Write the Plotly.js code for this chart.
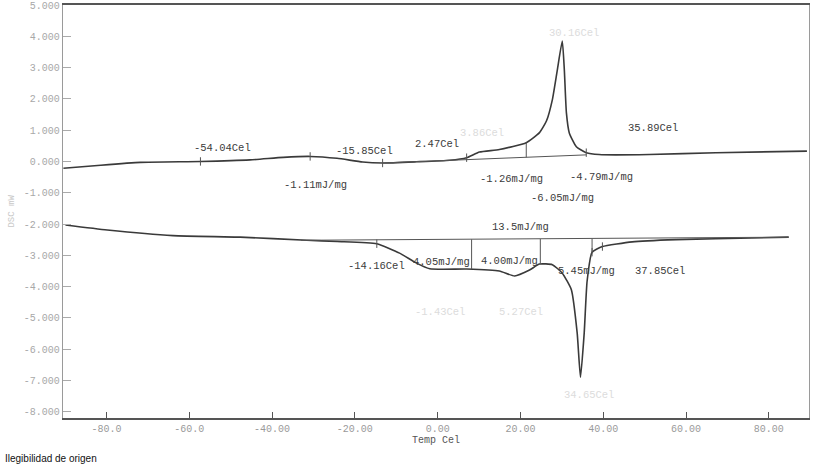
<!DOCTYPE html>
<html>
<head>
<meta charset="utf-8">
<script src="https://cdn.plot.ly/plotly-3.0.1.min.js"></script>
<style>
  html, body { margin: 0; padding: 0; background: #fff; }
  #chart { width: 815px; height: 468px; }
</style>
</head>
<body>
<div id="chart"></div>
<script>
// heating run (upper trace), temperature in Cel, signal in mW
var upperTemp = [-90.4, -81.4, -71.8, -57.3, -45.3, -37.3, -30.8, -24.3, -18.1, -13.3, -5.1, 2.9, 7.0, 10.1, 14.9, 21.4, 24.6, 26.3, 27.7, 28.9, 30.1, 30.6, 31.1, 31.8, 33.5, 35.9, 39.0, 51.1, 67.2, 89.2];
var upperDsc = [-0.22, -0.12, -0.03, 0.0, 0.05, 0.13, 0.16, 0.10, -0.02, -0.05, -0.01, 0.04, 0.12, 0.30, 0.38, 0.60, 0.92, 1.30, 1.97, 2.92, 3.85, 2.92, 1.55, 0.91, 0.47, 0.28, 0.22, 0.22, 0.28, 0.33];

// cooling run (lower trace)
var lowerTemp = [-89.9, -79.8, -63.9, -47.7, -31.6, -24.3, -14.7, -9.2, -5.1, -1.9, 7.0, 14.9, 18.6, 22.2, 24.6, 27.7, 30.1, 32.3, 33.7, 34.5, 35.4, 36.1, 37.3, 39.8, 47.0, 57.6, 67.2, 84.8];
var lowerDsc = [-2.03, -2.19, -2.37, -2.42, -2.52, -2.56, -2.63, -2.93, -3.25, -3.43, -3.44, -3.50, -3.66, -3.47, -3.28, -3.30, -3.57, -4.10, -5.48, -6.90, -5.48, -3.83, -2.90, -2.72, -2.57, -2.50, -2.47, -2.42];

// integration baselines
var upperBaseTemp = [-13.3, 35.9];
var upperBaseDsc = [-0.05, 0.21];
var lowerBaseTemp = [-33.0, 84.8];
var lowerBaseDsc = [-2.52, -2.42];

// partition lines (temp, from baseline value, to curve value)
var dropTemp = [21.4, 8.2, 24.8, 37.3];
var dropFrom = [0.13, -2.49, -2.48, -2.47];
var dropTo = [0.60, -3.44, -3.28, -2.90];

// small event marks on the traces
var markTemp = [-57.3, -30.8, -13.3, 7.0, 35.9, -14.7, 37.3, 39.8];
var markDsc = [0.0, 0.16, -0.05, 0.12, 0.28, -2.63, -2.90, -2.72];

var xTickVals = [-80, -60, -40, -20, 0, 20, 40, 60, 80];
var xTickText = ['-80.0', '-60.0', '-40.00', '-20.00', '0.00', '20.00', '40.00', '60.00', '80.00'];
var yTickVals = [5, 4, 3, 2, 1, 0, -1, -2, -3, -4, -5, -6, -7, -8];
var yTickText = ['5.000', '4.000', '3.000', '2.000', '1.000', '0.000', '-1.000', '-2.000', '-3.000', '-4.000', '-5.000', '-6.000', '-7.000', '-8.000'];

// printed results on the chart: text, temp, value, faint?
var labelText = ['-54.04Cel', '-1.11mJ/mg', '-15.85Cel', '2.47Cel', '3.86Cel', '30.16Cel', '35.89Cel',
  '-1.26mJ/mg', '-4.79mJ/mg', '-6.05mJ/mg', '13.5mJ/mg', '-14.16Cel', '4.05mJ/mg', '4.00mJ/mg',
  '5.45mJ/mg', '37.85Cel', '-1.43Cel', '5.27Cel', '34.65Cel'];
var labelTemp = [-52.0, -29.6, -17.6, -0.2, 10.6, 33.0, 52.0, 17.8, 39.5, 30.1, 20.0, -14.7, 1.0, 17.3, 35.9, 53.7, 0.5, 20.2, 36.6];
var labelDsc = [0.43, -0.75, 0.34, 0.55, 0.91, 4.10, 1.07, -0.56, -0.49, -1.16, -2.09, -3.34, -3.21, -3.18, -3.50, -3.50, -4.80, -4.80, -7.46];
var labelFaint = [false, false, false, false, true, true, false, false, false, false, false, false, false, false, false, false, true, true, true];

var lineCol = '#3a3a3a';
var data = [
    {x: upperTemp, y: upperDsc, type: 'scatter', mode: 'lines',
     line: {color: lineCol, width: 1.6, shape: 'spline', smoothing: 0.5}},
    {x: lowerTemp, y: lowerDsc, type: 'scatter', mode: 'lines',
     line: {color: lineCol, width: 1.6, shape: 'spline', smoothing: 0.5}},
    {x: upperBaseTemp, y: upperBaseDsc, type: 'scatter', mode: 'lines',
     line: {color: '#555', width: 1}},
    {x: lowerBaseTemp, y: lowerBaseDsc, type: 'scatter', mode: 'lines',
     line: {color: '#555', width: 1}},
    {x: markTemp, y: markDsc, type: 'scatter', mode: 'markers',
     marker: {symbol: 'line-ns', size: 6, line: {color: '#555', width: 1}}}
];
for (var i = 0; i < dropTemp.length; i++) {
    data.push({x: [dropTemp[i], dropTemp[i]], y: [dropFrom[i], dropTo[i]], type: 'scatter', mode: 'lines',
        line: {color: '#555', width: 1}});
}

var annotations = [];
for (var j = 0; j < labelText.length; j++) {
    annotations.push({
        x: labelTemp[j], y: labelDsc[j], xref: 'x', yref: 'y', text: labelText[j], showarrow: false,
        font: {family: 'Liberation Mono, DejaVu Sans Mono, monospace', size: 10.5,
               color: labelFaint[j] ? '#dcdcdc' : '#3c3c3c'}
    });
}
annotations.push({
    x: -0.079, y: 0.5, xref: 'paper', yref: 'paper', text: 'DSC mW', textangle: -90, showarrow: false,
    font: {family: 'Liberation Mono, monospace', size: 9, color: '#c8c8c8'}
});
annotations.push({
    x: -0.081, y: -0.097, xref: 'paper', yref: 'paper', xanchor: 'left', yanchor: 'middle',
    text: 'Ilegibilidad de origen', showarrow: false,
    font: {family: 'Liberation Sans, Arial, sans-serif', size: 10, color: '#111'}
});

var layout = {
    width: 815,
    height: 468,
    showlegend: false,
    paper_bgcolor: '#fff',
    plot_bgcolor: '#fff',
    margin: {l: 63, r: 6, t: 5, b: 50},
    font: {family: 'Liberation Mono, DejaVu Sans Mono, monospace', size: 10, color: '#999'},
    xaxis: {
        range: [-90.5, 89.7],
        tickvals: xTickVals,
        ticktext: xTickText,
        ticks: 'inside',
        ticklen: 6,
        tickcolor: '#555',
        showgrid: false,
        zeroline: false,
        showline: true,
        mirror: true,
        linecolor: '#555',
        linewidth: 1.8,
        tickfont: {size: 10, color: '#9a9a9a'},
        title: {text: 'Temp Cel', standoff: 2, font: {size: 10, color: '#555'}}
    },
    yaxis: {
        range: [-8.2, 5.0],
        tickvals: yTickVals,
        ticktext: yTickText,
        ticks: 'inside',
        ticklen: 8,
        tickcolor: '#aaa',
        showgrid: false,
        zeroline: false,
        showline: true,
        mirror: true,
        linecolor: '#9a9a9a',
        linewidth: 1.2,
        tickfont: {size: 10, color: '#a8a8a8'}
    },
    annotations: annotations
};

Plotly.newPlot(document.getElementById('chart'), data, layout, {displayModeBar: false, staticPlot: true});
</script>
</body>
</html>
